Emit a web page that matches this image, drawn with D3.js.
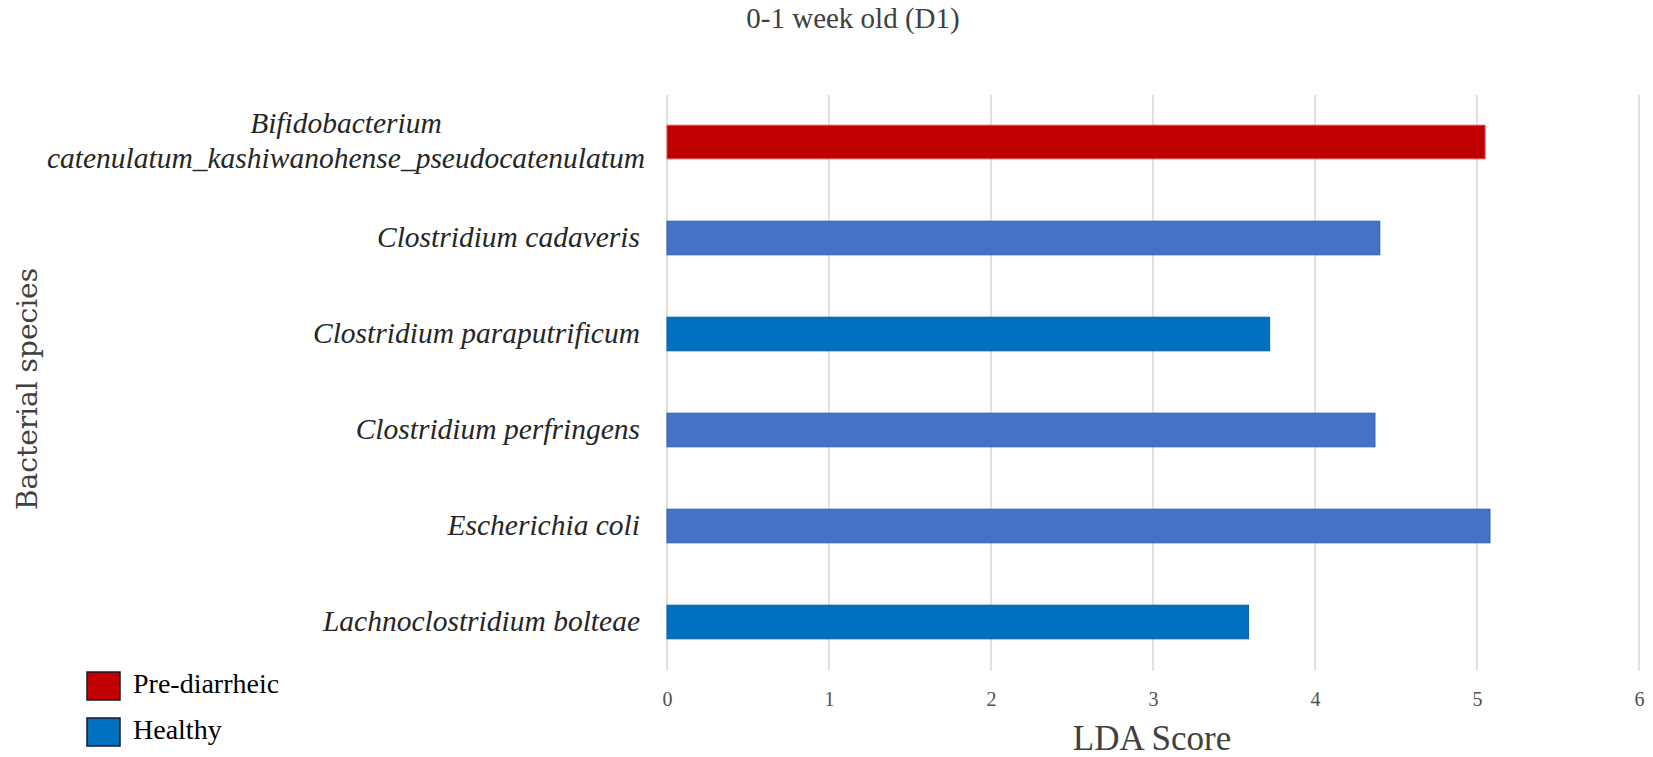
<!DOCTYPE html>
<html>
<head>
<meta charset="utf-8">
<script src="https://cdn.jsdelivr.net/npm/d3@7"></script>
<style>
  html, body { margin: 0; padding: 0; background: #fff; }
  svg { display: block; }
</style>
</head>
<body>
<svg id="chart" width="1653" height="757"></svg>
<script>
const categories = [
  ["Bifidobacterium", "catenulatum_kashiwanohense_pseudocatenulatum"],
  ["Clostridium cadaveris"],
  ["Clostridium paraputrificum"],
  ["Clostridium perfringens"],
  ["Escherichia coli"],
  ["Lachnoclostridium bolteae"]
];
const ldaScores = [5.05, 4.40, 3.72, 4.37, 5.08, 3.59];
const groups = ["Pre-diarrheic", "Healthy", "Healthy", "Healthy", "Healthy", "Healthy"];
const xTicks = [0, 1, 2, 3, 4, 5, 6];
const legendLabels = ["Pre-diarrheic", "Healthy"];
const chartTitle = "0-1 week old (D1)";
const xTitle = "LDA Score";
const yTitle = "Bacterial species";

const barFill = ["#C00000", "#4472C4", "#0070C0", "#4472C4", "#4472C4", "#0070C0"];
const barStroke = ["#E05050", "#2F5AB0", "#0B5CA8", "#2F5AB0", "#2F5AB0", "#0B5CA8"];
const legendFill = ["#C00000", "#0070C0"];

const svg = d3.select("#chart");
const ids = categories.map((c, i) => i);

const x = d3.scaleLinear().domain([0, 6]).range([667, 1639]);
const y = d3.scaleBand().domain(ids).range([94, 670]).paddingInner(0.65).paddingOuter(0.325);

const serif = "'Liberation Serif', 'Times New Roman', serif";

// gridlines
svg.append("g").selectAll("line").data(xTicks).join("line")
  .attr("x1", d => x(d)).attr("x2", d => x(d))
  .attr("y1", 95).attr("y2", 671)
  .attr("stroke", "#d9d9d9").attr("stroke-width", 1.6);

// bars
svg.append("g").selectAll("rect").data(ids).join("rect")
  .attr("x", x(0))
  .attr("y", i => y(i))
  .attr("width", i => x(ldaScores[i]) - x(0))
  .attr("height", y.bandwidth())
  .attr("fill", i => barFill[i])
  .attr("stroke", i => barStroke[i])
  .attr("stroke-width", 1);

// x axis tick labels
const xAxis = d3.axisBottom(x).tickValues(xTicks).tickSize(0).tickPadding(0).tickFormat(d3.format("d"));
const gx = svg.append("g").attr("transform", "translate(0,692)").call(xAxis);
gx.select(".domain").remove();
gx.selectAll("text").attr("font-family", serif).attr("font-size", 20).attr("fill", "#505050");

// y category labels
const yLab = svg.append("g");
ids.forEach(i => {
  const lines = categories[i];
  const cy = y(i) + y.bandwidth() / 2;
  const lh = 35;
  const t = yLab.append("text")
    .attr("font-family", serif).attr("font-style", "italic").attr("font-size", 29.5)
    .attr("fill", "#262626");
  if (lines.length === 1) {
    t.attr("x", 640).attr("y", cy).attr("dy", "0.32em").attr("text-anchor", "end").text(lines[0]);
  } else {
    lines.forEach((ln, k) => {
      t.append("tspan").attr("x", 346).attr("text-anchor", "middle")
        .attr("y", cy + (k - (lines.length - 1) / 2) * lh).attr("dy", "0.3em").text(ln);
    });
  }
});

// title
svg.append("text").attr("x", 853).attr("y", 28)
  .attr("text-anchor", "middle").attr("font-family", serif).attr("font-size", 29)
  .attr("fill", "#404040").text(chartTitle);

// x title
svg.append("text").attr("x", 1152).attr("y", 750)
  .attr("text-anchor", "middle").attr("font-family", serif).attr("font-size", 35)
  .attr("fill", "#404040").text(xTitle);

// y title
svg.append("text").attr("transform", "translate(37,389) rotate(-90)")
  .attr("text-anchor", "middle").attr("font-family", "'DejaVu Serif', serif").attr("font-size", 28)
  .attr("fill", "#404040").text(yTitle);

// legend
const lg = svg.append("g");
legendLabels.forEach((lab, k) => {
  const ly = 672 + k * 46;
  lg.append("rect").attr("x", 87).attr("y", ly).attr("width", 33).attr("height", 28)
    .attr("fill", legendFill[k]).attr("stroke", "#1a1a2a").attr("stroke-width", 1.5);
  lg.append("text").attr("x", 133).attr("y", ly + 21)
    .attr("font-family", serif).attr("font-size", 28).attr("fill", "#000").text(lab);
});
</script>
</body>
</html>
